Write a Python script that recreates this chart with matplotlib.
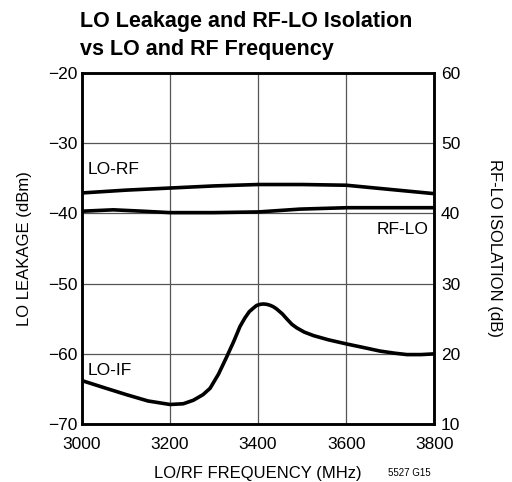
import matplotlib.pyplot as plt

plt.rcParams['font.family'] = ['Liberation Sans Narrow', 'Liberation Sans', 'DejaVu Sans']

# LO-RF leakage (dBm, left axis)
lo_rf_freq = [3000, 3100, 3200, 3300, 3400, 3500, 3600, 3700, 3800]
lo_rf_dbm = [-37.1, -36.7, -36.4, -36.1, -35.9, -35.9, -36.0, -36.6, -37.2]

# RF-LO isolation (dB, right axis)
rf_lo_freq = [3000, 3071, 3139, 3200, 3298, 3401, 3495, 3602, 3700, 3800]
rf_lo_db = [40.3, 40.5, 40.3, 40.1, 40.1, 40.2, 40.6, 40.8, 40.8, 40.8]

# LO-IF leakage (dBm, left axis)
lo_if_freq = [3000, 3050, 3101, 3150, 3200, 3230, 3253, 3275, 3291, 3310, 3329, 3345, 3359,
              3370, 3380, 3389, 3397, 3405, 3412, 3420, 3428, 3435, 3442, 3455, 3465, 3477,
              3488, 3505, 3526, 3560, 3602, 3640, 3677, 3710, 3738, 3770, 3800]
lo_if_dbm = [-63.8, -64.8, -65.8, -66.7, -67.2, -67.1, -66.6, -65.8, -64.9, -62.9, -60.4, -58.2, -56.1,
             -54.9, -54.0, -53.5, -53.1, -52.95, -52.9, -52.95, -53.1, -53.3, -53.6, -54.3, -55.0, -55.8,
             -56.3, -56.9, -57.4, -58.0, -58.6, -59.1, -59.6, -59.9, -60.1, -60.1, -60.0]

fig = plt.figure(figsize=(5.12, 4.82), dpi=100)
ax = fig.add_axes([0.160, 0.120, 0.688, 0.729])
ax2 = ax.twinx()

ax.plot(lo_rf_freq, lo_rf_dbm, color='black', lw=2.6, solid_joinstyle='round', solid_capstyle='butt')
ax.plot(lo_if_freq, lo_if_dbm, color='black', lw=2.6, solid_joinstyle='round', solid_capstyle='butt')
ax2.plot(rf_lo_freq, rf_lo_db, color='black', lw=2.6, solid_joinstyle='round', solid_capstyle='butt')

ax.set_xlim(3000, 3800)
ax.set_ylim(-70, -20)
ax2.set_ylim(10, 60)
ax.set_xticks([3000, 3200, 3400, 3600, 3800])
ax.set_yticks([-70, -60, -50, -40, -30, -20])
ax.set_yticklabels(['\u221270', '\u221260', '\u221250', '\u221240', '\u221230', '\u221220'])
ax2.set_yticks([10, 20, 30, 40, 50, 60])

ax.grid(True, color='#555555', lw=0.9)
ax.tick_params(axis='x', length=0, labelsize=12.5, pad=9)
ax.tick_params(axis='y', length=0, labelsize=12.5, pad=3)
ax2.tick_params(length=0, labelsize=12.5, pad=5)
for a in (ax, ax2):
    for s in a.spines.values():
        s.set_linewidth(1.8)

ax.set_xlabel('LO/RF FREQUENCY (MHz)', fontsize=12, labelpad=10)
ax.set_ylabel('LO LEAKAGE (dBm)', fontsize=12, labelpad=12)
ax2.set_ylabel('RF-LO ISOLATION (dB)', fontsize=12, rotation=-90, labelpad=30)

ax.text(3012, -33.8, 'LO-RF', fontsize=12.5, va='center', ha='left')
ax.text(3788, -42.3, 'RF-LO', fontsize=12.5, va='center', ha='right')
ax.text(3012, -62.3, 'LO-IF', fontsize=12.5, va='center', ha='left')

fig.text(0.156, 0.978, 'LO Leakage and RF-LO Isolation\nvs LO and RF Frequency',
         fontsize=15.5, fontweight='bold', va='top', ha='left', linespacing=1.45)
fig.text(0.80, 0.012, '5527 G15', fontsize=7, ha='center')

fig.savefig('out.png', dpi=100)
